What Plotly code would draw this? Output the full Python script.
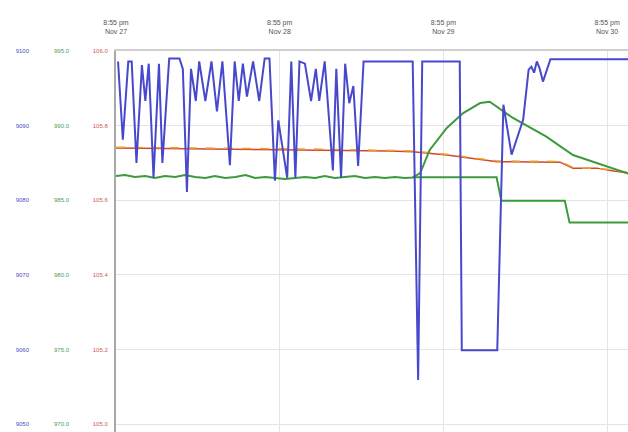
import datetime as dt
import plotly.graph_objects as go

START = dt.datetime(2023, 11, 27, 20, 55)

# ---- tick labels ----
x_tick_days = [0, 1, 2, 3]
x_tick_text = ["8:55 pm<br>Nov 27", "8:55 pm<br>Nov 28", "8:55 pm<br>Nov 29", "8:55 pm<br>Nov 30"]
blue_ticks = [9050, 9060, 9070, 9080, 9090, 9100]
green_ticks = [970.0, 975.0, 980.0, 985.0, 990.0, 995.0]
red_ticks = [105.0, 105.2, 105.4, 105.6, 105.8, 106.0]

# ---- series (hours after start, value) ----
blue_h = [0.3, 1.0, 1.8, 2.3, 3.0, 3.8, 4.3, 4.8, 5.5, 6.3, 6.8, 7.8, 9.3, 9.8, 10.4, 11.0,
          11.7, 12.2, 13.1, 14.0, 14.8, 15.6, 16.7, 17.4, 18.0, 18.6, 19.2, 20.1, 21.0, 21.8,
          22.5, 23.3, 23.8, 25.1, 25.7, 26.3, 26.9, 27.7, 28.6, 29.3, 29.8, 30.6, 31.8,
          32.3, 33.0, 33.6, 34.2, 34.8, 35.5, 36.3, 43.5, 44.3, 44.9, 50.4, 50.7, 55.9,
          56.8, 58.0, 59.7, 60.5, 60.9, 61.3, 61.7, 62.1, 62.6, 63.1, 63.7, 75.1]
blue_v = [9098.6, 9088.1, 9098.6, 9098.6, 9085.0, 9098.1, 9093.3, 9098.3, 9083.0, 9098.3,
          9085.0, 9099.0, 9099.0, 9097.6, 9081.1, 9097.6, 9093.3, 9098.6, 9093.3, 9098.6,
          9091.9, 9098.6, 9084.7, 9098.6, 9093.3, 9098.3, 9093.9, 9098.6, 9093.3, 9099.0,
          9099.0, 9082.6, 9090.7, 9083.0, 9098.6, 9083.0, 9098.6, 9098.3, 9093.3, 9097.6,
          9093.3, 9098.6, 9084.0, 9097.6, 9083.0, 9098.3, 9093.0, 9095.3, 9084.6, 9098.6,
          9098.6, 9055.9, 9098.6, 9098.6, 9059.9, 9059.9, 9092.8, 9086.1, 9090.8, 9097.5,
          9097.9, 9097.1, 9098.6, 9097.7, 9095.9, 9097.2, 9098.9, 9098.9]

green1_h = [0.0, 1.3, 2.8, 4.3, 5.7, 7.2, 8.7, 10.1, 11.6, 13.1, 14.5, 16.0, 17.5, 19.0,
            20.4, 21.9, 23.3, 24.8, 26.3, 27.7, 29.2, 30.6, 32.1, 33.6, 35.0, 36.5, 38.0,
            39.4, 40.9, 42.4, 43.5, 44.6, 46.0, 48.5, 50.9, 53.4, 54.8, 58.2, 63.1, 67.0,
            70.5, 75.1]
green1_v = [986.62, 986.69, 986.56, 986.62, 986.49, 986.62, 986.56, 986.69, 986.56, 986.49,
            986.62, 986.49, 986.56, 986.69, 986.49, 986.56, 986.49, 986.42, 986.49, 986.56,
            986.49, 986.62, 986.49, 986.56, 986.62, 986.49, 986.56, 986.49, 986.56, 986.49,
            986.52, 986.82, 988.37, 989.84, 990.84, 991.51, 991.60, 990.51, 989.26, 988.03,
            987.49, 986.78]

green2_h = [43.5, 55.8, 56.5, 65.8, 66.5, 75.1]
green2_v = [986.54, 986.54, 984.97, 984.97, 983.50, 983.50]

red_h = [0.0, 5.0, 10.0, 15.0, 20.0, 25.0, 30.0, 35.0, 40.0, 43.5, 48.5, 55.9, 60.0,
         65.1, 67.0, 70.5, 73.0, 75.1]
red_v = [105.740, 105.739, 105.738, 105.738, 105.737, 105.736, 105.735, 105.734, 105.732,
         105.730, 105.721, 105.703, 105.703, 105.702, 105.686, 105.686, 105.678, 105.673]

orange_h = [0.0, 4.0, 9.0, 14.0, 19.0, 24.0, 29.0, 34.0, 39.0, 43.5, 48.5, 55.9, 60.0,
            65.1, 67.0, 69.0, 70.5, 72.0, 75.1]
orange_v = [105.742, 105.741, 105.740, 105.740, 105.739, 105.738, 105.737, 105.736, 105.734,
            105.732, 105.723, 105.705, 105.705, 105.704, 105.688, 105.686, 105.684, 105.683,
            105.675]


def to_time(hours):
    return [START + dt.timedelta(hours=h) for h in hours]


BLUE = "#4848cc"
GREEN = "#3c9a3c"
RED = "#d04a2a"
ORANGE = "#f0a030"

fig = go.Figure()
fig.add_trace(go.Scatter(x=to_time(red_h), y=red_v, mode="lines", yaxis="y",
                         line=dict(color=RED, width=1.5)))
fig.add_trace(go.Scatter(x=to_time(orange_h), y=orange_v, mode="lines", yaxis="y",
                         line=dict(color=ORANGE, width=1.5, dash="dash")))
fig.add_trace(go.Scatter(x=to_time(green1_h), y=green1_v, mode="lines", yaxis="y2",
                         line=dict(color=GREEN, width=2)))
fig.add_trace(go.Scatter(x=to_time(green2_h), y=green2_v, mode="lines", yaxis="y2",
                         line=dict(color=GREEN, width=2)))
fig.add_trace(go.Scatter(x=to_time(blue_h), y=blue_v, mode="lines", yaxis="y3",
                         line=dict(color=BLUE, width=2)))


def yrange(ticks):
    step = ticks[1] - ticks[0]
    return [ticks[0] - 0.107 * step, ticks[-1]]


W, H = 628, 432
x0 = 116 / W
fig.update_layout(
    width=W, height=H,
    margin=dict(l=0, r=0, t=51, b=0),
    paper_bgcolor="white", plot_bgcolor="white",
    showlegend=False,
    hovermode=False,
    xaxis=dict(
        domain=[x0, 1], side="top", type="date", automargin=False,
        range=[START, START + dt.timedelta(hours=75.07)],
        tickvals=[START + dt.timedelta(days=d) for d in x_tick_days],
        ticktext=x_tick_text,
        tickfont=dict(family="Liberation Sans", size=7, color="#555"),
        showgrid=True, gridcolor="#e4e4e4", gridwidth=1,
        showline=True, linecolor="#cfcfcf", linewidth=2, mirror=False,
        zeroline=False, ticks="", ticklabelstandoff=12,
    ),
    yaxis=dict(
        range=yrange(red_ticks), tickvals=red_ticks, automargin=False,
        ticktext=[f"{v:.1f}" for v in red_ticks],
        tickfont=dict(family="Liberation Sans", size=6, color="#d05a5a"),
        showgrid=True, gridcolor="#e4e4e4", gridwidth=1,
        showline=True, linecolor="#a8a8a8", linewidth=2,
        zeroline=False, ticks="", ticklabelstandoff=5,
    ),
    yaxis2=dict(
        range=yrange(green_ticks), tickvals=green_ticks, automargin=False,
        ticktext=[f"{v:.1f}" for v in green_ticks],
        tickfont=dict(family="Liberation Sans", size=6, color="#4a9e4a"),
        overlaying="y", anchor="free", position=69 / W, side="left",
        showgrid=False, zeroline=False, showline=False, ticks="",
    ),
    yaxis3=dict(
        range=yrange(blue_ticks), tickvals=blue_ticks, automargin=False,
        ticktext=[f"{v:d}" for v in blue_ticks],
        tickfont=dict(family="Liberation Sans", size=6, color="#4c4cc8"),
        overlaying="y", anchor="free", position=29 / W, side="left",
        showgrid=False, zeroline=False, showline=False, ticks="",
    ),
)

fig.write_html(
    "out.html",
    config={"displayModeBar": False, "staticPlot": True},
    post_script="document.body.style.margin='0';document.body.style.overflow='hidden';",
)
